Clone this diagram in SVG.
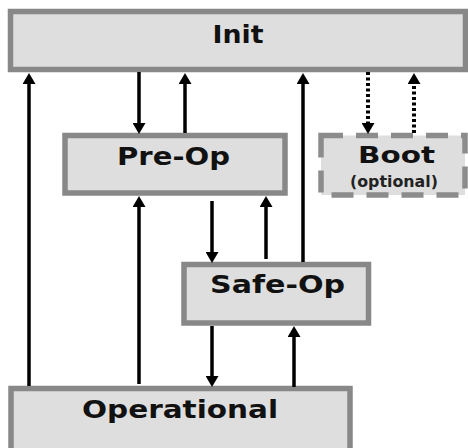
<svg xmlns="http://www.w3.org/2000/svg" width="468" height="448" viewBox="0 0 468 448">
  <style>
    .box { fill: #dedede; stroke: #888888; stroke-width: 5.5; }
    .opt { fill: #dedede; stroke: #8c8c8c; stroke-width: 5.5; stroke-dasharray: 22 13; }
    .lbl { font-family: "DejaVu Sans", Verdana, sans-serif; font-weight: bold; fill: #111111; text-anchor: middle; }
    .sub { font-family: "DejaVu Sans", Verdana, sans-serif; font-weight: bold; fill: #222222; text-anchor: middle; }
    .arr { stroke: #000000; stroke-width: 3.5; fill: none; marker-end: url(#head); }
    .dot { stroke: #000000; stroke-width: 4; fill: none; stroke-dasharray: 3 2.5; marker-end: url(#head); }
  </style>
  <defs>
    <marker id="head" markerUnits="userSpaceOnUse" markerWidth="11" markerHeight="13" viewBox="0 0 11 13" refX="0" refY="6.5" orient="auto">
      <path d="M0,0 L11,6.5 L0,13 z" fill="#000000"/>
    </marker>
  </defs>

  <rect width="468" height="448" fill="#ffffff"/>

  <!-- states -->
  <g id="init">
    <rect class="box" x="10.5" y="11.5" width="455" height="58"/>
    <text class="lbl" x="238" y="43" font-size="25" textLength="51" lengthAdjust="spacingAndGlyphs">Init</text>
  </g>
  <g id="preop">
    <rect class="box" x="65" y="135.5" width="220" height="57.5"/>
    <text class="lbl" x="173.5" y="165" font-size="24.5" textLength="113" lengthAdjust="spacingAndGlyphs">Pre-Op</text>
  </g>
  <g id="boot">
    <rect class="opt" x="321" y="135.5" width="144" height="59.5"/>
    <text class="lbl" x="396.5" y="163" font-size="22.5" textLength="77" lengthAdjust="spacingAndGlyphs">Boot</text>
    <text class="sub" x="394" y="187" font-size="15" textLength="88" lengthAdjust="spacingAndGlyphs">(optional)</text>
  </g>
  <g id="safeop">
    <rect class="box" x="184" y="264.5" width="184.5" height="58.5"/>
    <text class="lbl" x="277.5" y="293" font-size="24" textLength="135" lengthAdjust="spacingAndGlyphs">Safe-Op</text>
  </g>
  <g id="operational">
    <rect class="box" x="11" y="388.5" width="339" height="72"/>
    <text class="lbl" x="180" y="418" font-size="24" textLength="196" lengthAdjust="spacingAndGlyphs">Operational</text>
  </g>

  <!-- transitions -->
  <g id="connectors">
    <line class="arr" x1="29" y1="386" x2="29" y2="84"/>
    <line class="arr" x1="139" y1="72" x2="139" y2="123"/>
    <line class="arr" x1="185" y1="133" x2="185" y2="84"/>
    <line class="arr" x1="139" y1="384" x2="139" y2="207"/>
    <line class="arr" x1="212" y1="201" x2="212" y2="252"/>
    <line class="arr" x1="266" y1="259" x2="266" y2="207"/>
    <line class="arr" x1="303" y1="262" x2="303" y2="84"/>
    <line class="arr" x1="212" y1="326" x2="212" y2="376"/>
    <line class="arr" x1="294" y1="387" x2="294" y2="337"/>
    <line class="dot" x1="368" y1="72" x2="368" y2="123"/>
    <line class="dot" x1="414" y1="133" x2="414" y2="84"/>
  </g>
</svg>
